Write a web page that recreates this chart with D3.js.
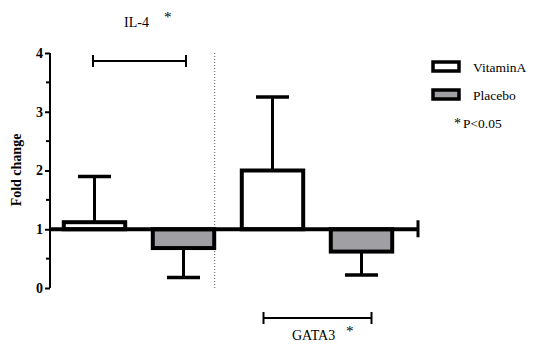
<!DOCTYPE html>
<html><head><meta charset="utf-8">
<script src="https://cdn.jsdelivr.net/npm/d3@7"></script>
<style>body{margin:0;background:#fff}svg{display:block}svg text{font-family:"Liberation Serif","DejaVu Serif",serif}</style>
</head><body><svg id="c" width="535" height="353"></svg>
<script>
const categories = ["IL-4 VitaminA","IL-4 Placebo","GATA3 VitaminA","GATA3 Placebo"];
const groups = ["VitaminA","Placebo","VitaminA","Placebo"];
const means = [1.12, 0.68, 2.0, 0.62];
const errEnds = [1.9, 0.18, 3.25, 0.22];
const yTicks = [0,1,2,3,4];
const minorTicks = [0.5,1.5,2.5,3.5];
const legendLabels = ["VitaminA","Placebo"];
const genes = ["IL-4","GATA3"];
const colors = {VitaminA:"#ffffff", Placebo:"#a0a0a4"};

const svg = d3.select("#c");
const y = d3.scaleLinear().domain([0,4]).range([288,53]);
const x = d3.scaleBand().domain(categories).range([50,406]).paddingInner(0.31).paddingOuter(0.155);
const serif = "Liberation Serif, DejaVu Serif, serif";

// y axis
const yAxis = d3.axisLeft(y).tickValues(yTicks).tickFormat(d3.format("d")).tickSize(5).tickPadding(2);
const ga = svg.append("g").attr("transform","translate(50,0)").call(yAxis);
ga.attr("font-family",null);
ga.select(".domain").attr("stroke","#000").attr("stroke-width",2).attr("d",`M0,${y(4)}V${y(0)}`);
ga.selectAll(".tick line").attr("stroke","#000").attr("stroke-width",2);
ga.selectAll(".tick text").attr("font-family",serif).attr("font-weight","bold").attr("font-size",14).attr("fill","#000");
svg.append("g").selectAll("line").data(minorTicks).join("line")
  .attr("x1",46).attr("x2",50).attr("y1",d=>y(d)).attr("y2",d=>y(d)).attr("stroke","#000").attr("stroke-width",2);

svg.append("text").attr("transform",`translate(21,${170}) rotate(-90)`).attr("text-anchor","middle")
  .attr("font-family",serif).attr("font-weight","bold").attr("font-size",14).text("Fold change");

// dotted separator
const sepX = x(categories[1]) + x.bandwidth() + 0.5;
svg.append("line").attr("x1",sepX).attr("x2",sepX).attr("y1",y(4)).attr("y2",y(0))
  .attr("stroke","#555").attr("stroke-width",1).attr("stroke-dasharray","1,2");

// error bars
const eb = svg.append("g");
categories.forEach((c,i)=>{
  const cx = x(c)+x.bandwidth()/2;
  eb.append("line").attr("x1",cx).attr("x2",cx).attr("y1",y(means[i])).attr("y2",y(errEnds[i])).attr("stroke","#000").attr("stroke-width",3);
  eb.append("line").attr("x1",cx-16.5).attr("x2",cx+16.5).attr("y1",y(errEnds[i])).attr("y2",y(errEnds[i])).attr("stroke","#000").attr("stroke-width",3.5);
});

// bars (from baseline 1)
svg.append("g").selectAll("rect").data(categories).join("rect")
  .attr("x",d=>x(d)).attr("width",x.bandwidth())
  .attr("y",(d,i)=>Math.min(y(1),y(means[i])))
  .attr("height",(d,i)=>Math.abs(y(1)-y(means[i])))
  .attr("fill",(d,i)=>colors[groups[i]]).attr("stroke","#000").attr("stroke-width",4);

// baseline at 1
svg.append("line").attr("x1",50).attr("x2",418).attr("y1",y(1)).attr("y2",y(1)).attr("stroke","#000").attr("stroke-width",4);
svg.append("line").attr("x1",418).attr("x2",418).attr("y1",y(1)-9).attr("y2",y(1)+8).attr("stroke","#000").attr("stroke-width",3);

// significance brackets
function bracket(x1,x2,yy){
  const g = svg.append("g").attr("stroke","#000").attr("stroke-width",2);
  g.append("line").attr("x1",x1).attr("x2",x2).attr("y1",yy).attr("y2",yy);
  g.append("line").attr("x1",x1).attr("x2",x1).attr("y1",yy-6).attr("y2",yy+6);
  g.append("line").attr("x1",x2).attr("x2",x2).attr("y1",yy-6).attr("y2",yy+6);
}
const c0 = x(categories[0])+x.bandwidth()/2, c1 = x(categories[1])+x.bandwidth()/2;
const c2 = x(categories[2])+x.bandwidth()/2, c3 = x(categories[3])+x.bandwidth()/2;
bracket(c0-1.5, c1+2.5, 61);
bracket(c2-9, c3+10, 318);
svg.append("text").attr("x",124).attr("y",27).attr("font-family",serif).attr("font-size",14).text(genes[0]);
svg.append("text").attr("x",164).attr("y",22).attr("font-family",serif).attr("font-size",15).text("*");
svg.append("text").attr("x",292).attr("y",340).attr("font-family",serif).attr("font-size",14).text(genes[1]);
svg.append("text").attr("x",346).attr("y",336).attr("font-family",serif).attr("font-size",15).text("*");

// legend
const lg = svg.append("g");
legendLabels.forEach((l,i)=>{
  const yy = 62 + i*28;
  lg.append("rect").attr("x",433).attr("y",yy).attr("width",26).attr("height",9)
    .attr("fill",colors[l]).attr("stroke","#000").attr("stroke-width",3.5);
  lg.append("text").attr("x",473).attr("y",yy+10).attr("font-family",serif).attr("font-size",13.5).text(l);
});
lg.append("text").attr("x",454).attr("y",128).attr("font-family",serif).attr("font-size",14).text("*");
lg.append("text").attr("x",463).attr("y",128).attr("font-family",serif).attr("font-size",13.5).text("P<0.05");
</script></body></html>
